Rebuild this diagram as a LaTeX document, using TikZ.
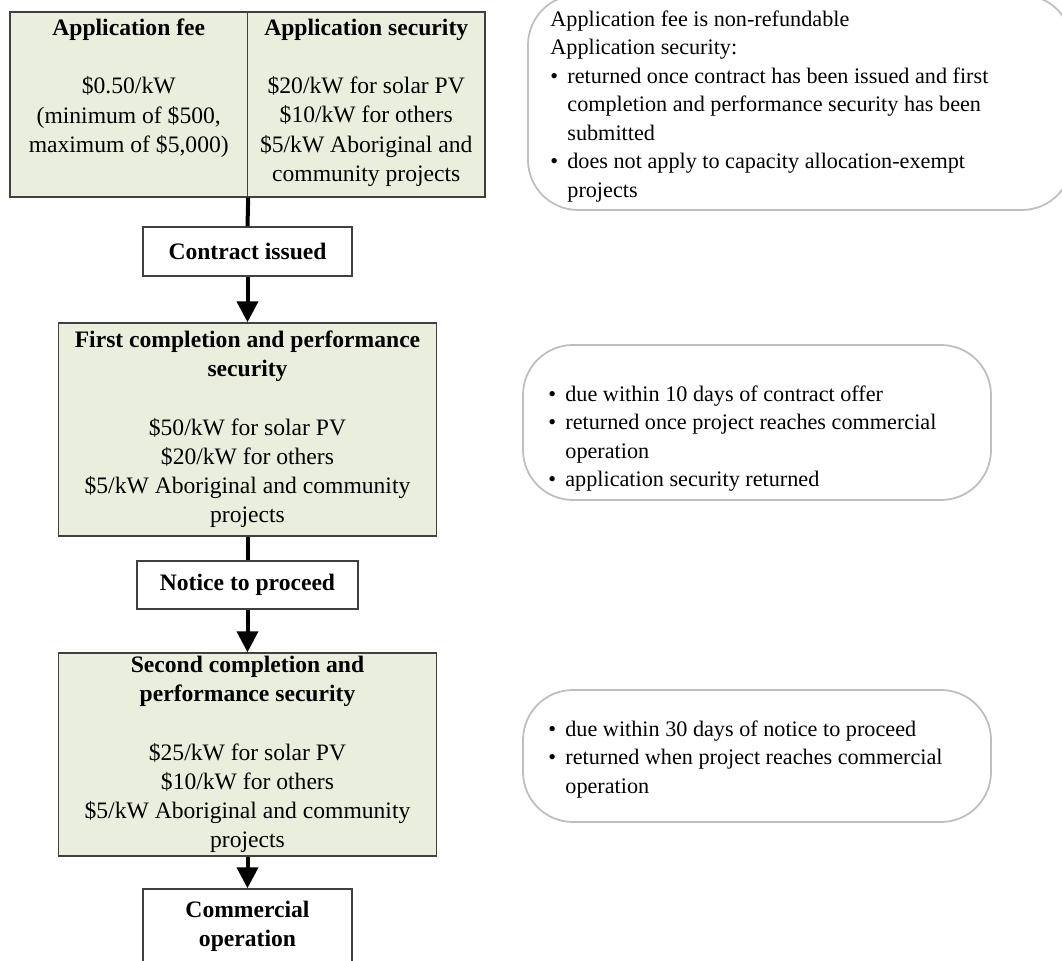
\documentclass[tikz,border=0pt]{standalone}
\usepackage{fontspec}
\setmainfont{Liberation Serif}
\usetikzlibrary{arrows.meta}
\definecolor{boxfill}{RGB}{234,238,221}
\definecolor{boxline}{RGB}{64,64,64}
\definecolor{calline}{RGB}{191,191,191}
\newcommand{\boxfont}{\fontsize{11.8}{14.6}\selectfont}
\newcommand{\calfont}{\fontsize{11.1}{14.25}\selectfont}
\newcommand{\bul}{\makebox[8.5pt][l]{\textbullet}}
\newcommand{\ind}{\hspace*{8.5pt}}
\begin{document}
\begin{tikzpicture}[x=0.5pt,y=-0.5pt,
  greenbox/.style={draw=boxline,fill=boxfill,line width=0.7pt,inner sep=0pt,align=center,font=\boxfont},
  whitebox/.style={draw=boxline,fill=white,line width=0.7pt,inner sep=0pt,align=center,font=\boxfont\bfseries},
  callout/.style={draw=calline,line width=0.9pt,rounded corners=25pt,inner sep=0pt},
  caltext/.style={inner sep=0pt,align=left,font=\calfont,anchor=north west},
  link/.style={line width=2pt},
  arrowlink/.style={line width=2pt,-{Triangle[width=10.5pt,length=10.5pt]}},
]
\useasboundingbox (0,0) rectangle (1062,961);

% flow boxes
\node[greenbox,minimum width=118.75pt,minimum height=92.5pt] (fee) at (128.75,104.5)
  {\textbf{Application fee}\\[14.6pt]\$0.50/kW\\(minimum of \$500,\\maximum of \$5,000)\\\strut};
\node[greenbox,minimum width=118.75pt,minimum height=92.5pt] (sec) at (366.25,104.5)
  {\textbf{Application security}\\[14.6pt]\$20/kW for solar PV\\\$10/kW for others\\\$5/kW Aboriginal and\\community projects\strut};
\node[whitebox,minimum width=104.5pt,minimum height=24.5pt] (contract) at (247.5,251.5) {Contract issued};
\node[greenbox,minimum width=189pt,minimum height=106.5pt] (first) at (247.5,429.5)
  {\textbf{First completion and performance}\\\textbf{security}\\[14.6pt]\$50/kW for solar PV\\\$20/kW for others\\\$5/kW Aboriginal and community\\projects};
\node[whitebox,minimum width=110.5pt,minimum height=24pt] (notice) at (247.5,585) {Notice to proceed};
\node[greenbox,minimum width=189pt,minimum height=101.5pt] (second) at (247.5,754.5)
  {\textbf{Second completion and}\\\textbf{performance security}\\[14.6pt]\$25/kW for solar PV\\\$10/kW for others\\\$5/kW Aboriginal and community\\projects};
\node[whitebox,minimum width=104.5pt,minimum height=37pt] (comm) at (247.5,926) {Commercial\\operation};

% connectors
\draw[link] (fee.south east) -- (contract.north);
\draw[arrowlink] (contract.south) -- (first.north);
\draw[link] (first.south) -- (notice.north);
\draw[arrowlink] (notice.south) -- (second.north);
\draw[arrowlink] (second.south) -- (comm.north);

% callouts
\node[callout,minimum width=272pt,minimum height=107.5pt] (c1) at (800,102.5) {};
\node[callout,minimum width=234pt,minimum height=77.5pt] (c2) at (757,422.5) {};
\node[callout,minimum width=234pt,minimum height=66pt] (c3) at (757,756) {};

\node[caltext] (c1t) at (550,10) {Application fee is non-refundable\\Application security:\\\bul returned once contract has been issued and first\\\ind completion and performance security has been\\\ind submitted\\\bul does not apply to capacity allocation-exempt\\\ind projects};
\node[caltext] (c2t) at (548,385) {\bul due within 10 days of contract offer\\\bul returned once project reaches commercial\\\ind operation\\\bul application security returned};
\node[caltext] (c3t) at (548,720) {\bul due within 30 days of notice to proceed\\\bul returned when project reaches commercial\\\ind operation};
\end{tikzpicture}
\end{document}
